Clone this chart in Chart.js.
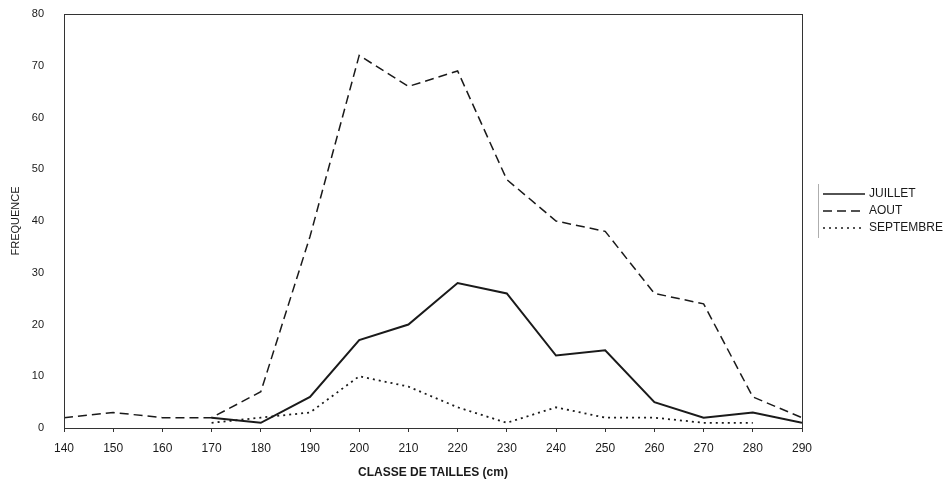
<!DOCTYPE html>
<html>
<head>
<meta charset="utf-8">
<script src="https://cdn.jsdelivr.net/npm/chart.js@4/dist/chart.umd.min.js"></script>
<style>
html,body{margin:0;padding:0;background:#fff;}
#wrap{width:948px;height:482px;position:relative;}
</style>
</head>
<body>
<div id="wrap"><canvas id="c" width="948" height="482"></canvas></div>
<script>
const classes = [140,150,160,170,180,190,200,210,220,230,240,250,260,270,280,290];
const juilletX = [170,180,190,200,210,220,230,240,250,260,270,280,290];
const juillet  = [2,1,6,17,20,28,26,14,15,5,2,3,1];
const aoutX = [140,150,160,170,180,190,200,210,220,230,240,250,260,270,280,290];
const aout  = [2,3,2,2,7,37,72,66,69,48,40,38,26,24,6,2];
const septX = [170,180,190,200,210,220,230,240,250,260,270,280];
const septembre = [1,2,3,10,8,4,1,4,2,2,1,1];
const yTicks = [0,10,20,30,40,50,60,70,80];
const seriesNames = ['JUILLET','AOUT','SEPTEMBRE'];

function pts(xs, ys){ return xs.map((x,i)=>({x:x,y:ys[i]})); }

const FONT = '"Liberation Sans", Arial, sans-serif';
const INK = '#1a1a1a';

const boxPlugin = {
  id:'box',
  afterDraw(chart){
    const {ctx, chartArea:a} = chart;
    ctx.save();
    ctx.strokeStyle = '#333';
    ctx.lineWidth = 1;
    ctx.strokeRect(a.left+0.5, a.top+0.5, a.right-a.left, a.bottom-a.top);
    // legend
    const lx = 823, lw = 42, ys = [194, 211, 228];
    ctx.strokeStyle = '#999';
    ctx.lineWidth = 0.8;
    ctx.beginPath(); ctx.moveTo(818.5, 184); ctx.lineTo(818.5, 238); ctx.stroke();
    chart.data.datasets.forEach((ds,i)=>{
      ctx.strokeStyle = INK;
      ctx.lineWidth = Math.min(ds.borderWidth, 1.4);
      ctx.setLineDash(ds.borderDash || []);
      ctx.beginPath(); ctx.moveTo(lx, ys[i]); ctx.lineTo(lx+lw, ys[i]); ctx.stroke();
      ctx.setLineDash([]);
      ctx.fillStyle = INK;
      ctx.font = '12px ' + FONT;
      ctx.textBaseline = 'middle';
      ctx.textAlign = 'left';
      ctx.fillText(ds.label, lx+lw+4, ys[i]);
    });
    ctx.restore();
  }
};

new Chart(document.getElementById('c'), {
  type:'line',
  data:{
    datasets:[
      {label:seriesNames[0], data:pts(juilletX,juillet), borderColor:INK, borderWidth:2, pointRadius:0, tension:0, fill:false},
      {label:seriesNames[1], data:pts(aoutX,aout), borderColor:INK, borderWidth:1.5, borderDash:[9,5], pointRadius:0, tension:0, fill:false},
      {label:seriesNames[2], data:pts(septX,septembre), borderColor:INK, borderWidth:1.8, borderDash:[2,4], pointRadius:0, tension:0, fill:false}
    ]
  },
  options:{
    responsive:false,
    animation:false,
    layout:{padding:{left:0, right:146, top:14, bottom:0}},
    plugins:{legend:{display:false}, tooltip:{enabled:false}},
    scales:{
      x:{
        type:'linear', min:140, max:290,
        afterBuildTicks(scale){ scale.ticks = classes.map(v=>({value:v})); },
        afterFit(scale){ scale.height = 54; },
        grid:{display:true, drawOnChartArea:false, drawTicks:true, tickLength:4, color:'#333'},
        border:{display:true, color:'#333'},
        ticks:{color:INK, font:{family:FONT, size:12}, padding:9, maxRotation:0, autoSkip:false},
        title:{display:true, text:'CLASSE DE TAILLES (cm)', color:INK, font:{family:FONT, size:12, weight:'bold'}, padding:{top:0,bottom:2}}
      },
      y:{
        min:0, max:80,
        afterBuildTicks(scale){ scale.ticks = yTicks.map(v=>({value:v})); },
        afterFit(scale){ scale.width = 64; },
        grid:{display:false, drawTicks:true, tickLength:13},
        border:{display:true, color:'#333'},
        ticks:{color:INK, font:{family:FONT, size:11}, padding:7},
        title:{display:true, text:'FREQUENCE', color:INK, font:{family:FONT, size:11}, padding:{top:9,bottom:0}}
      }
    }
  },
  plugins:[boxPlugin]
});
</script>
</body>
</html>
